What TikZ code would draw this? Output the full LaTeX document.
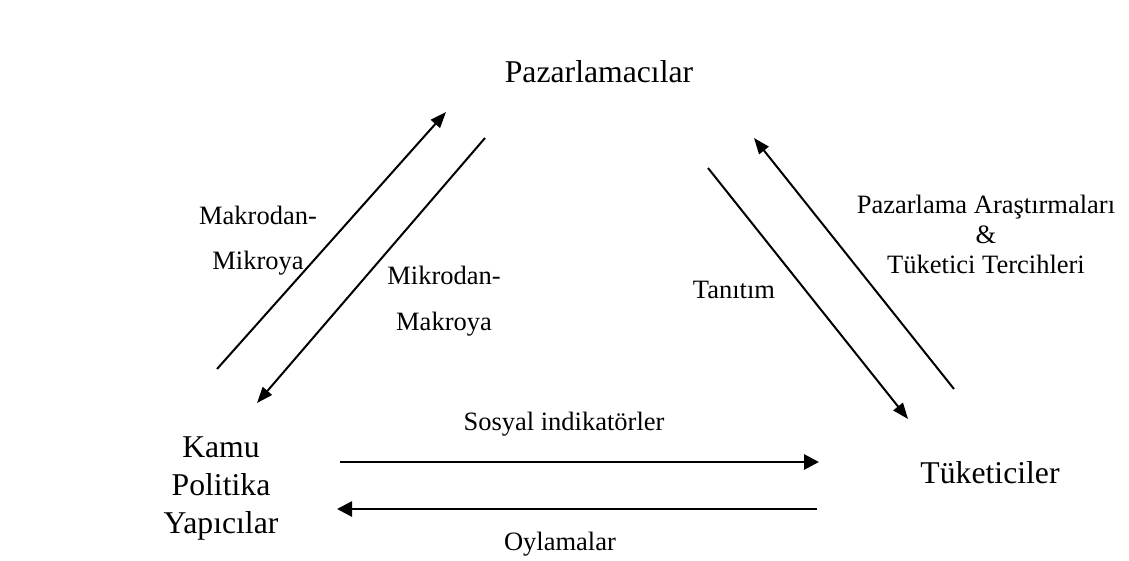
\documentclass[tikz,border=0pt]{standalone}
\usepackage{fontspec}
\setmainfont{Liberation Serif}
\usetikzlibrary{arrows.meta}
\begin{document}
\begin{tikzpicture}[x=1pt,y=-1pt,
  actor/.style={font=\fontsize{31.7}{38}\selectfont, inner sep=0pt, align=center, anchor=base},
  lbl/.style={font=\fontsize{26.5}{30}\selectfont, inner sep=0pt, align=center, anchor=base},
  flow/.style={line width=2pt, -{Triangle[length=16pt,width=12pt]}},
  hflow/.style={line width=2.8pt, -{Triangle[length=15pt,width=15pt]}}]
\useasboundingbox (0,0) rectangle (1129,560);

% actors (base anchor = baseline of the last line)
\node[actor] (paz) at (599,82) {Pazarlamacılar};
\node[actor] (tuk) at (990,483) {Tüketiciler};
\node[actor] (kamu) at (221,533) {Kamu\\Politika\\Yapıcılar};

% labels
\node[lbl, font=\fontsize{26.5}{45}\selectfont] (makmik) at (258,269) {Makrodan-\\Mikroya};
\node[lbl, font=\fontsize{26.5}{46}\selectfont] (mikmak) at (444,330) {Mikrodan-\\Makroya};
\node[lbl] (tan) at (734,298) {Tanıtım};
\node[lbl] (pat) at (986,273) {Pazarlama Araştırmaları\\\&\\Tüketici Tercihleri};
\node[lbl] (sos) at (564,430) {Sosyal indikatörler};
\node[lbl] (oyl) at (560,550) {Oylamalar};

% arrow end points
\coordinate (a1s) at (217,369); \coordinate (a1e) at (446,112);
\coordinate (a2s) at (485,138); \coordinate (a2e) at (257,403);
\coordinate (a3s) at (708,168); \coordinate (a3e) at (908,419);
\coordinate (a4s) at (954,389); \coordinate (a4e) at (754,138);
\coordinate (a5s) at (340,462); \coordinate (a5e) at (819,462);
\coordinate (a6s) at (817,509); \coordinate (a6e) at (337,509);

\draw[flow] (a1s) -- (a1e);
\draw[flow] (a2s) -- (a2e);
\draw[flow] (a3s) -- (a3e);
\draw[flow] (a4s) -- (a4e);
\draw[hflow] (a5s) -- (a5e);
\draw[hflow] (a6s) -- (a6e);
\end{tikzpicture}
\end{document}
